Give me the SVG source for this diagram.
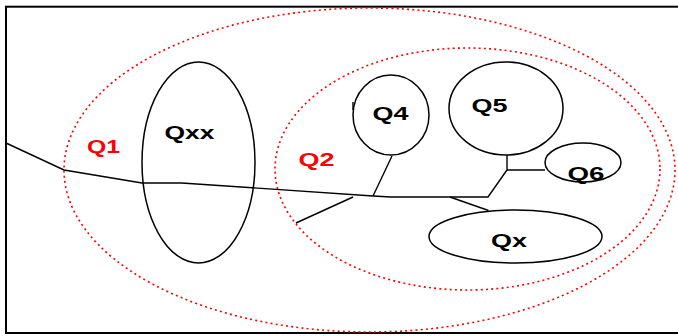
<svg xmlns="http://www.w3.org/2000/svg" width="678" height="336" viewBox="0 0 678 336">
  <style>
    .frame { fill: none; stroke: #000; stroke-width: 2; }
    .region { fill: none; stroke: #ff0000; stroke-width: 1.6; stroke-dasharray: 2 3.2; }
    .node { fill: none; stroke: #000; stroke-width: 1.5; }
    .wire { fill: none; stroke: #000; stroke-width: 1.4; stroke-linejoin: miter; }
    .lbl { font-family: "Liberation Sans", Arial, sans-serif; font-weight: bold; font-size: 17.5px; }
    .blk { fill: #000; }
    .red { fill: #ff0000; }
  </style>
  <rect width="678" height="336" fill="#fff"/>
  <rect class="frame" x="6" y="6.7" width="690" height="326.3"/>

  <g id="Q1">
    <ellipse class="region" cx="369.5" cy="170" rx="305.5" ry="162"/>
    <text class="lbl red" x="87" y="152.5" textLength="33" lengthAdjust="spacingAndGlyphs">Q1</text>
  </g>
  <g id="Q2">
    <ellipse class="region" cx="467.5" cy="169" rx="192.5" ry="121"/>
    <text class="lbl red" x="298.5" y="166" textLength="36" lengthAdjust="spacingAndGlyphs">Q2</text>
  </g>

  <g id="connectors">
    <polyline class="wire" points="6,143 64,170 142,183 181.6,183 373,196 391,197 488,197 507,170 507,155"/>
    <line class="wire" x1="507" y1="170" x2="545" y2="170"/>
    <line class="wire" x1="373" y1="196" x2="392" y2="156"/>
    <line class="wire" x1="353" y1="197" x2="296" y2="223"/>
    <line class="wire" x1="450" y1="197" x2="488.5" y2="210.5"/>
    <line class="wire" x1="353" y1="102" x2="353" y2="110"/>
  </g>

  <g id="Qxx">
    <ellipse class="node" cx="198.5" cy="162.5" rx="56.5" ry="100.5"/>
    <text class="lbl blk" x="164.5" y="139" textLength="50" lengthAdjust="spacingAndGlyphs">Qxx</text>
  </g>
  <g id="Q4">
    <ellipse class="node" cx="391" cy="115" rx="38" ry="40"/>
    <text class="lbl blk" x="372.5" y="120" textLength="36" lengthAdjust="spacingAndGlyphs">Q4</text>
  </g>
  <g id="Q5">
    <ellipse class="node" cx="506" cy="108.5" rx="57" ry="46.5"/>
    <text class="lbl blk" x="471.5" y="111.7" textLength="36" lengthAdjust="spacingAndGlyphs">Q5</text>
  </g>
  <g id="Q6">
    <ellipse class="node" cx="583" cy="162.5" rx="38" ry="19.5"/>
    <text class="lbl blk" x="567.5" y="180" textLength="37" lengthAdjust="spacingAndGlyphs">Q6</text>
  </g>
  <g id="Qx">
    <ellipse class="node" cx="515.5" cy="236.5" rx="86.5" ry="26.5"/>
    <text class="lbl blk" x="491" y="246.5" textLength="36" lengthAdjust="spacingAndGlyphs">Qx</text>
  </g>
</svg>
